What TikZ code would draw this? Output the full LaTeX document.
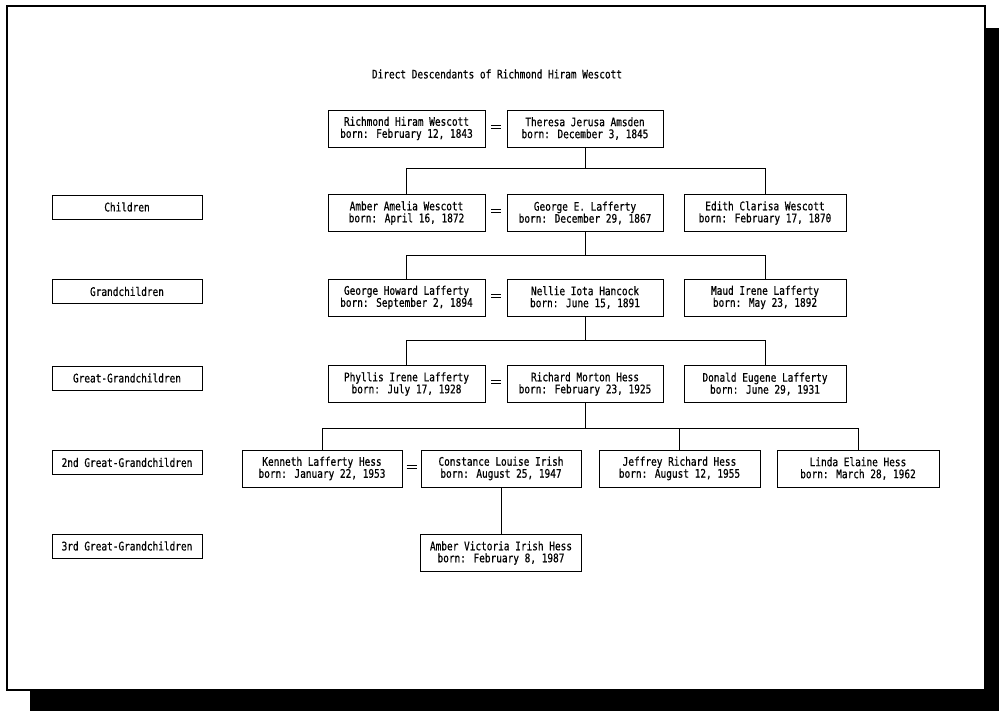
\documentclass[tikz,border=0pt]{standalone}
\usepackage{fontspec}
\usetikzlibrary{calc}
\newfontfamily\chartfont[FakeStretch=0.8,FakeBold=0.6]{DejaVu Sans Mono}
\begin{document}
\begin{tikzpicture}[x=1pt,y=-1pt,
  person/.style={draw, line width=0.7pt, minimum height=37pt, inner sep=0pt, align=center,
     font=\chartfont\fontsize{11.8}{12}\selectfont},
  genlabel/.style={draw, line width=0.7pt, minimum width=150pt, minimum height=24pt, inner sep=0pt,
     font=\chartfont\fontsize{11.8}{12}\selectfont},
  link/.style={line width=0.7pt},
  eqline/.style={line width=0.7pt}]
\useasboundingbox (0,0) rectangle (999,711);
% frame and shadow
\fill[black] (985,28) rectangle (999,711);
\fill[black] (30,690) rectangle (999,711);
\draw[line width=1.2pt] (7,6) rectangle (985,690);

\node[font=\chartfont\fontsize{11.8}{12}\selectfont] (title) at (497,74) {Direct Descendants of Richmond Hiram Wescott};

% generation labels
\node[genlabel] (lchild) at (127,207) {Children};
\node[genlabel] (lgrand) at (127,291.5) {Grandchildren};
\node[genlabel] (lgreat) at (127,378) {Great-Grandchildren};
\node[genlabel] (lsecond) at (127,462.5) {2nd Great-Grandchildren};
\node[genlabel] (lthird) at (127,546) {3rd Great-Grandchildren};

% row 1
\node[person, minimum width=157pt] (richmond) at (406.5,128.5) {Richmond Hiram Wescott\\born: February 12, 1843};
\node[person, minimum width=156pt] (theresa) at (585,128.5) {Theresa Jerusa Amsden\\born: December 3, 1845};
% row 2
\node[person, minimum width=157pt] (amber) at (406.5,213) {Amber Amelia Wescott\\born: April 16, 1872};
\node[person, minimum width=156pt] (georgee) at (585,213) {George E. Lafferty\\born: December 29, 1867};
\node[person, minimum width=162pt] (edith) at (765,213) {Edith Clarisa Wescott\\born: February 17, 1870};
% row 3
\node[person, minimum width=157pt] (georgeh) at (406.5,297.5) {George Howard Lafferty\\born: September 2, 1894};
\node[person, minimum width=156pt] (nellie) at (585,297.5) {Nellie Iota Hancock\\born: June 15, 1891};
\node[person, minimum width=162pt] (maud) at (765,297.5) {Maud Irene Lafferty\\born: May 23, 1892};
% row 4
\node[person, minimum width=157pt] (phyllis) at (406.5,384) {Phyllis Irene Lafferty\\born: July 17, 1928};
\node[person, minimum width=156pt] (richard) at (585,384) {Richard Morton Hess\\born: February 23, 1925};
\node[person, minimum width=162pt] (donald) at (765,384) {Donald Eugene Lafferty\\born: June 29, 1931};
% row 5
\node[person, minimum width=160pt] (kenneth) at (322,468.5) {Kenneth Lafferty Hess\\born: January 22, 1953};
\node[person, minimum width=160pt] (constance) at (501,468.5) {Constance Louise Irish\\born: August 25, 1947};
\node[person, minimum width=161pt] (jeffrey) at (679.5,468.5) {Jeffrey Richard Hess\\born: August 12, 1955};
\node[person, minimum width=162pt] (linda) at (858,468.5) {Linda Elaine Hess\\born: March 28, 1962};
% row 6
\node[person, minimum width=161pt] (ambervic) at (501,553) {Amber Victoria Irish Hess\\born: February 8, 1987};

% marriage signs
\foreach \a/\b in {richmond/theresa, amber/georgee, georgeh/nellie, phyllis/richard, kenneth/constance}{
  \draw[eqline] ($(\a.east)!0.5!(\b.west)+(-5,-3.5)$) -- ++(10,0);
  \draw[eqline] ($(\a.east)!0.5!(\b.west)+(-5,-0.5)$) -- ++(10,0);
}

% descent lines
\path (theresa.south) ++(0,21) coordinate (b1);
\draw[link] (theresa.south) -- (b1);
\draw[link] (amber.north) |- (b1) -| (edith.north);

\path (georgee.south) ++(0,24) coordinate (b2);
\draw[link] (georgee.south) -- (b2);
\draw[link] (georgeh.north) |- (b2) -| (maud.north);

\path (nellie.south) ++(0,24) coordinate (b3);
\draw[link] (nellie.south) -- (b3);
\draw[link] (phyllis.north) |- (b3) -| (donald.north);

\path (richard.south) ++(0,25) coordinate (b4);
\draw[link] (richard.south) -- (b4);
\draw[link] (kenneth.north) |- (b4) -| (linda.north);
\draw[link] (jeffrey.north) -- (jeffrey.north |- b4);

\draw[link] (constance.south) -- (ambervic.north);
\end{tikzpicture}
\end{document}
